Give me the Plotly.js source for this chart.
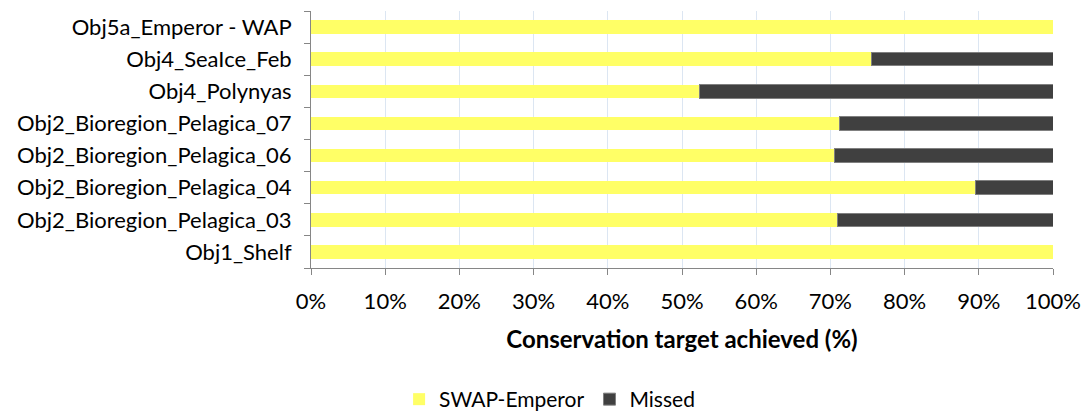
<!DOCTYPE html>
<html>
<head>
<meta charset="utf-8">
<script src="https://cdn.plot.ly/plotly-3.0.1.min.js"></script>
<style>html,body{margin:0;padding:0;background:#fff;}#chart{width:1084px;height:420px;}</style>
</head>
<body>
<div id="chart"></div>
<script>
const categories = [
  "Obj1_Shelf",
  "Obj2_Bioregion_Pelagica_03",
  "Obj2_Bioregion_Pelagica_04",
  "Obj2_Bioregion_Pelagica_06",
  "Obj2_Bioregion_Pelagica_07",
  "Obj4_Polynyas",
  "Obj4_SeaIce_Feb",
  "Obj5a_Emperor - WAP"
];
const achieved = [100, 70.9, 89.6, 70.6, 71.2, 52.4, 75.5, 100];
const missed   = [0, 29.1, 10.4, 29.4, 28.8, 47.6, 24.5, 0];
const xTicks = [0,10,20,30,40,50,60,70,80,90,100];

const FONT = "Lato, Open Sans, sans-serif";

const traces = [
  {type:"bar", orientation:"h", name:"SWAP-Emperor", y:categories, x:achieved,
   marker:{color:"#FFFF66", line:{width:0}}},
  {type:"bar", orientation:"h", name:"Missed", y:categories, x:missed,
   marker:{color:"#404040", line:{color:"#808080", width:1}}}
];

const layout = {
  width:1084, height:420,
  margin:{l:311, r:31, t:11, b:152, pad:0},
  barmode:"stack",
  bargap:0.58,
  paper_bgcolor:"#fff", plot_bgcolor:"#fff",
  font:{family:FONT, size:22, color:"#000"},
  showlegend:true,
  legend:{orientation:"h", xref:"container", yref:"container", x:0.507, xanchor:"center",
          y:0.0, yanchor:"bottom", font:{family:FONT, size:21, color:"#000"},
          itemwidth:30, traceorder:"normal", borderwidth:0},
  xaxis:{range:[0,100], tickvals:xTicks, ticktext:xTicks.map(v=>v+"%"),
         showgrid:true, gridcolor:"#DCE6F2", gridwidth:1,
         showline:true, linecolor:"#868686", linewidth:1,
         ticks:"outside", ticklen:6, tickcolor:"#868686",
         zeroline:false, tickfont:{family:FONT, size:22, color:"#000"}, ticklabelstandoff:8,
         title:{text:"<b>Conservation target achieved (%)</b>", font:{family:FONT, size:24, color:"#000"}, standoff:17},
         fixedrange:true},
  yaxis:{type:"category", showgrid:false, showline:true, linecolor:"#868686", linewidth:1,
         ticks:"outside", ticklen:6, tickcolor:"#868686", tickson:"boundaries",
         tickfont:{family:FONT, size:22, color:"#000"}, ticklabelstandoff:14,
         fixedrange:true}
};

Plotly.newPlot("chart", traces, layout, {displayModeBar:false, staticPlot:true});
</script>
</body>
</html>
